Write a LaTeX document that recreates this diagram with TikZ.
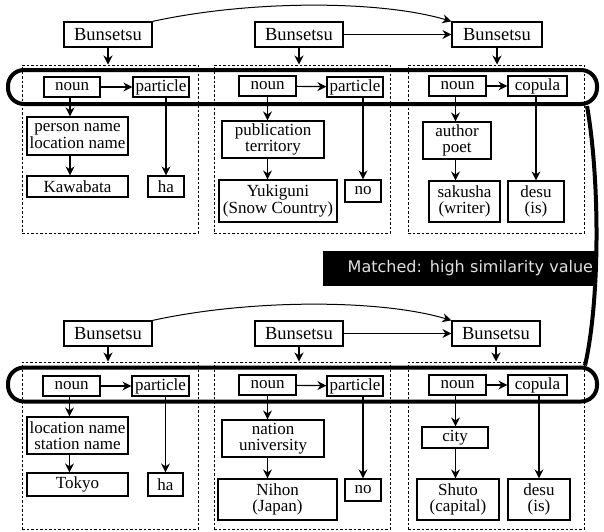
\documentclass[tikz,border=0pt]{standalone}
\usepackage{fontspec}
\setmainfont{Liberation Serif}
\newfontfamily\labelfont{DejaVu Sans}
\usetikzlibrary{arrows.meta,calc}

\begin{document}
\begin{tikzpicture}[x=1pt,y=-1pt,
  font=\fontsize{17}{16.5}\selectfont,
  box/.style={draw,line width=1.2pt,inner sep=0pt,align=center},
  bun/.style={box,font=\fontsize{18.5}{18.5}\selectfont,minimum width=88,minimum height=25},
  grp/.style={draw,line width=1pt,dash pattern=on 2.5pt off 2pt,inner sep=0pt,minimum width=176},
  band/.style={draw,line width=4pt,rounded corners=16pt,inner sep=0pt,minimum width=589,minimum height=34},
  arr/.style={line width=1.2pt,-{Stealth[length=9pt,width=9pt]}}]
\useasboundingbox (0,0) rectangle (604,531);

% upper sentence
\node[grp,minimum height=168] (g1) at (110,149) {};
\node[grp,minimum height=168] (g2) at (302,149) {};
\node[grp,minimum height=168] (g3) at (496,149) {};
\node[band] (r1) at (302.5,87) {};

\node[bun] (b1) at (108,34.5) {Bunsetsu};
\node[bun] (b2) at (299,34.5) {Bunsetsu};
\node[bun,minimum width=90] (b3) at (497,34.5) {Bunsetsu};

\node[box,minimum width=56,minimum height=20] (n1) at (72,87) {noun};
\node[box,minimum width=56,minimum height=20] (p1) at (161,87) {particle};
\node[box,minimum width=101,minimum height=38] (c1a) at (77.5,136) {person name\\location name};
\node[box,minimum width=101,minimum height=21] (c1b) at (77.5,186.5) {Kawabata};
\node[box,minimum width=36,minimum height=21] (h1) at (166,186.5) {ha};

\node[box,minimum width=57,minimum height=20] (n2) at (267.5,86) {noun};
\node[box,minimum width=56,minimum height=20] (p2) at (355,87) {particle};
\node[box,minimum width=102,minimum height=37] (c2a) at (273,139.5) {publication\\territory};
\node[box,minimum width=118,minimum height=42] (c2b) at (278,201) {Yukiguni\\(Snow Country)};
\node[box,minimum width=36,minimum height=22] (h2) at (363,191) {no};

\node[box,minimum width=57,minimum height=20] (n3) at (457.5,86) {noun};
\node[box,minimum width=59,minimum height=20] (p3) at (537.5,86) {copula};
\node[box,minimum width=68,minimum height=37] (c3a) at (457,140.5) {author\\poet};
\node[box,minimum width=71,minimum height=41] (c3b) at (464.5,201.5) {sakusha\\(writer)};
\node[box,minimum width=56,minimum height=41] (h3) at (536,201.5) {desu\\(is)};

\draw[arr,line width=1pt] (b1.north east) .. controls (250,0) and (380,0) .. (b3.north west);
\draw[arr] (b2) -- (b3);
\draw[arr] (b1.south) -- (b1.south |- g1.north);
\draw[arr] (b2.south) -- (b2.south |- g2.north);
\draw[arr] (b3.south) -- (b3.south |- g3.north);

\draw[arr] (n1) -- (p1);
\draw[arr] (n2) -- (p2);
\draw[arr] (n3) -- (p3);
\draw[arr] ([xshift=-2pt]n1.south) -- ([xshift=-2pt]n1.south |- c1a.north);
\draw[arr] ([xshift=-2pt]n1.south |- c1a.south) -- ([xshift=-2pt]n1.south |- c1b.north);
\draw[arr] (p1.south -| h1.north) -- (h1.north);
\draw[arr] (n2.south) -- (n2.south |- c2a.north);
\draw[arr] (n2.south |- c2a.south) -- (n2.south |- c2b.north);
\draw[arr] (p2.south -| h2.north) -- (h2.north);
\draw[arr] ([xshift=-2pt]n3.south) -- ([xshift=-2pt]n3.south |- c3a.north);
\draw[arr] ([xshift=-2pt]n3.south |- c3a.south) -- ([xshift=-2pt]n3.south |- c3b.north);
\draw[arr] (p3.south -| h3.north) -- (h3.north);

% lower sentence
\node[grp,minimum height=167] (g4) at (110,445.5) {};
\node[grp,minimum height=167] (g5) at (302,445.5) {};
\node[grp,minimum height=167] (g6) at (496,445.5) {};
\node[band] (r2) at (302.5,384.5) {};

\node[bun] (b4) at (108,333.5) {Bunsetsu};
\node[bun] (b5) at (299,333.5) {Bunsetsu};
\node[bun] (b6) at (496,333.5) {Bunsetsu};

\node[box,minimum width=57,minimum height=20] (n4) at (71.5,386) {noun};
\node[box,minimum width=57,minimum height=20] (p4) at (160.5,386) {particle};
\node[box,minimum width=101,minimum height=37] (c4a) at (77.5,435.5) {location name\\station name};
\node[box,minimum width=101,minimum height=23] (c4b) at (77.5,484.5) {Tokyo};
\node[box,minimum width=35,minimum height=23] (h4) at (165.5,484.5) {ha};

\node[box,minimum width=57,minimum height=20] (n5) at (267.5,385) {noun};
\node[box,minimum width=56,minimum height=20] (p5) at (355,386) {particle};
\node[box,minimum width=102,minimum height=37] (c5a) at (273,438.5) {nation\\university};
\node[box,minimum width=119,minimum height=41] (c5b) at (277.5,499.5) {Nihon\\(Japan)};
\node[box,minimum width=36,minimum height=22] (h5) at (363,490) {no};

\node[box,minimum width=57,minimum height=20] (n6) at (457.5,385) {noun};
\node[box,minimum width=59,minimum height=20] (p6) at (537.5,385) {copula};
\node[box,minimum width=66,minimum height=21] (c6a) at (455,437.5) {city};
\node[box,minimum width=82,minimum height=41] (c6b) at (458,499.5) {Shuto\\(capital)};
\node[box,minimum width=62,minimum height=41] (h6) at (539,499.5) {desu\\(is)};

\draw[arr,line width=1pt] (b4.north east) .. controls (250,299) and (380,299) .. (b6.north west);
\draw[arr] (b5) -- (b6);
\draw[arr] (b4.south) -- (b4.south |- g4.north);
\draw[arr] (b5.south) -- (b5.south |- g5.north);
\draw[arr] (b6.south) -- (b6.south |- g6.north);

\draw[arr] (n4) -- (p4);
\draw[arr] (n5) -- (p5);
\draw[arr] (n6) -- (p6);
\draw[arr] ([xshift=-2pt]n4.south) -- ([xshift=-2pt]n4.south |- c4a.north);
\draw[arr] ([xshift=-2pt]n4.south |- c4a.south) -- ([xshift=-2pt]n4.south |- c4b.north);
\draw[arr] (p4.south -| h4.north) -- (h4.north);
\draw[arr] (n5.south) -- (n5.south |- c5a.north);
\draw[arr] (n5.south |- c5a.south) -- (n5.south |- c5b.north);
\draw[arr] (p5.south -| h5.north) -- (h5.north);
\draw[arr] ([xshift=-2pt]n6.south) -- ([xshift=-2pt]n6.south |- c6a.north);
\draw[arr] ([xshift=-2pt]n6.south |- c6a.south) -- ([xshift=-2pt]n6.south |- c6b.north);
\draw[arr] (p6.south -| h6.north) -- (h6.north);

% match link
\draw[line width=4pt] ($(r1.south east)+(-12,0)$) .. controls (600,180) and (600,300) .. ($(r2.north east)+(-14,0)$);
\node[fill=black,text=white!88!black,font=\labelfont\fontsize{16}{16}\selectfont,
  text width=266,align=right,minimum height=35,inner sep=4pt] (m) at (460,268.5) {Matched: high similarity value};
\end{tikzpicture}
\end{document}
